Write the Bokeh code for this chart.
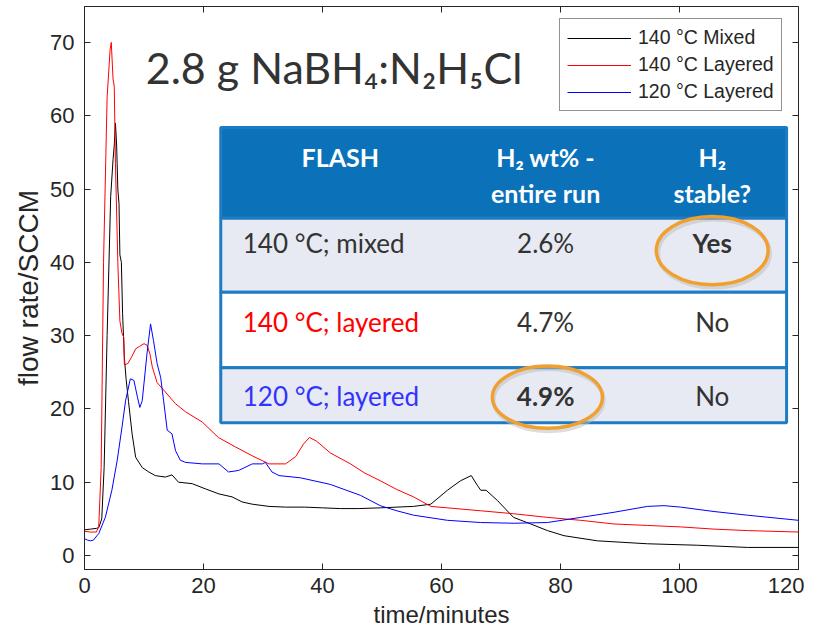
from bokeh.plotting import figure
from bokeh.models import Range1d, FixedTicker, LinearAxis, Legend, LegendItem, Label, ColumnDataSource
from bokeh.core.properties import value
from bokeh.embed import file_html
from bokeh.resources import INLINE

# ---------------- data ----------------
t_mixed140 = [0, 1, 2, 2.4, 2.9, 3.3, 3.8, 4.4, 4.8, 5.0, 5.2, 5.4, 5.6, 5.8, 5.95, 6.2, 6.4, 6.7,
              7.0, 7.4, 8.0, 8.6, 9.7, 10.8, 11.9, 13.6, 14.7, 15.8, 18.1, 20.3, 22.6, 24.8, 26.5,
              28.2, 31, 33.8, 37, 40, 43, 46, 49.7, 52.5, 55.3, 58.2, 61, 63.2, 65, 66, 66.6, 67.5,
              69.4, 72.1, 75, 77.8, 80.6, 86.2, 94.6, 103, 111.4, 120]
v_mixed140 = [3.5, 3.6, 3.7, 3.8, 5, 12, 30, 49, 54, 56, 59, 56, 50, 48, 41, 40, 33, 27,
              24, 21, 16.6, 13.4, 12.0, 11.4, 10.9, 10.7, 11.0, 10.0, 9.8, 9.1, 8.4, 8.0, 7.3,
              7.0, 6.7, 6.6, 6.6, 6.5, 6.4, 6.4, 6.5, 6.6, 6.7, 7.0, 8.9, 10.2, 10.9, 9.6, 8.9, 8.9,
              7.5, 5.2, 4.3, 3.4, 2.7, 2.0, 1.6, 1.4, 1.1, 1.1]

t_layer140 = [0, 1, 2, 2.4, 2.8, 3.2, 3.8, 4.3, 4.5, 4.8, 5.0, 5.2, 5.6, 5.95, 6.3, 6.6, 6.7, 7.3,
              8.0, 8.6, 9.2, 10, 10.5, 11.0, 11.4, 12.2, 13.6, 15.3, 17, 19.8, 22.5, 25.4, 28.2, 31,
              33.8, 35.5, 36.8, 37.8, 39, 41.3, 44.7, 47, 49.7, 52.5, 55.3, 58.2, 61, 66.6, 72.1,
              77.8, 83.4, 89, 94.6, 100.2, 105.8, 111.4, 120]
v_layer140 = [3.3, 3.2, 3.2, 4, 12, 40, 62.5, 69, 70, 65, 64, 53.5, 40, 32, 30.3, 29.8, 26, 26.2,
              27.2, 28.2, 28.5, 28.9, 28.7, 27.5, 25.7, 23.6, 22.3, 20.7, 19.6, 18.2, 16.1, 14.8, 13.6, 12.5,
              12.5, 13.5, 15.2, 16.1, 15.6, 14.0, 12.5, 11.3, 10.2, 9.0, 8.0, 6.7, 6.5, 6.1, 5.7,
              5.2, 4.8, 4.3, 4.1, 3.9, 3.6, 3.4, 3.2]

t_layer120 = [0, 0.5, 1.0, 1.5, 2.4, 3.5, 4.6, 5.5, 6.3, 6.9, 7.7, 8.3, 8.9, 9.3, 9.7, 10.5, 11.1,
              11.6, 12.2, 12.8, 13.3, 13.9, 14.7, 15.3, 16.1, 17, 19.8, 22.6, 24.2, 25.9, 28.2, 29.9,
              30.4, 31.5, 32.7, 36.3, 41.3, 46.4, 49.7, 52.5, 55.3, 61, 66.6, 72.2, 77.8, 83.4, 89,
              94.6, 97.4, 100.2, 105.8, 111.4, 120]
v_layer120 = [2.3, 2.1, 2.0, 2.1, 3.0, 5.2, 8.9, 13, 17.5, 21.1, 24.1, 23.9, 21.6, 20.2, 21.1, 27.5, 31.6,
              29.3, 26.2, 24.3, 21.1, 17.1, 16.6, 14.3, 13.0, 12.7, 12.5, 12.5, 11.4, 11.6, 12.5, 12.5,
              12.7, 11.4, 10.9, 10.6, 9.7, 8.2, 6.8, 6.1, 5.5, 4.8, 4.5, 4.4, 4.5, 5.2, 5.9,
              6.7, 6.8, 6.6, 6.0, 5.5, 4.8]

series_names = ["140 °C Mixed", "140 °C Layered", "120 °C Layered"]
series_colors = ["#000000", "#FF0000", "#0000FF"]

x_ticks = [0, 20, 40, 60, 80, 100, 120]
y_ticks = [0, 10, 20, 30, 40, 50, 60, 70]

title_text = "2.8 g NaBH₄:N₂H₅Cl"

table_header = ["FLASH", "H₂ wt% -", "entire run", "H₂", "stable?"]
table_rows = ["140 °C; mixed", "140 °C; layered", "120 °C; layered"]
table_row_colors = ["#333333", "#FF0000", "#3333FF"]
table_wt = ["2.6%", "4.7%", "4.9%"]
table_stable = ["Yes", "No", "No"]

# ---------------- figure ----------------
AX = "#262626"
p = figure(width=804, height=635, output_backend="svg", toolbar_location=None,
           x_range=Range1d(0, 120), y_range=Range1d(-1.91, 74.9),
           min_border_left=84, min_border_right=6, min_border_top=6, min_border_bottom=66)
p.background_fill_color = "white"
p.border_fill_color = "white"
p.outline_line_color = AX
p.outline_line_width = 1
p.xgrid.visible = False
p.ygrid.visible = False

for ax, ticks in ((p.xaxis[0], x_ticks), (p.yaxis[0], y_ticks)):
    ax.ticker = FixedTicker(ticks=ticks)
    ax.axis_line_color = AX
    ax.major_tick_line_color = AX
    ax.major_tick_in = 6
    ax.major_tick_out = 0
    ax.minor_tick_line_color = None
    ax.major_label_text_font = "Liberation Sans"
    ax.major_label_text_font_size = "22px"
    ax.major_label_text_color = AX
    ax.axis_label_text_font = "Liberation Sans"
    ax.axis_label_text_font_style = "normal"
    ax.axis_label_text_color = AX

p.xaxis.axis_label = "time/minutes"
p.yaxis.axis_label = "flow rate/SCCM"
p.xaxis.axis_label_text_font_size = "24px"
p.yaxis.axis_label_text_font_size = "28px"
p.xaxis.major_label_standoff = 8
p.xaxis.axis_label_standoff = 5
p.yaxis.major_label_standoff = 10
p.yaxis.axis_label_standoff = 3

for loc, ticks in (("right", y_ticks), ("above", x_ticks)):
    a = LinearAxis(ticker=FixedTicker(ticks=ticks), major_label_text_font_size="1px",
                   major_label_text_color=None,
                   major_label_standoff=0, major_tick_in=6, major_tick_out=0,
                   minor_tick_line_color=None, axis_line_color=None,
                   major_tick_line_color=AX)
    p.add_layout(a, loc)

# ---------------- lines ----------------
renderers = []
for (t, v), c in zip(((t_mixed140, v_mixed140), (t_layer140, v_layer140), (t_layer120, v_layer120)),
                     series_colors):
    r = p.line(t, v, line_color=c, line_width=1)
    renderers.append(r)

# ---------------- table (annotation) ----------------
TX0, TX1 = 22.9, 118.0
EDGES = [58.4, 46.0, 35.9, 25.6, 18.1]
BLUE_HDR = "#0B72BA"
BLUE_LINE = "#1F7CC2"
ROW_FILL = ["#E7EAF3", "#FFFFFF", "#E7EAF3"]

p.quad(left=[TX0], right=[TX1], top=[EDGES[0]], bottom=[EDGES[1]],
       fill_color=BLUE_HDR, line_color=BLUE_LINE, line_width=3)
p.quad(left=[TX0] * 3, right=[TX1] * 3, top=EDGES[1:4], bottom=EDGES[2:5],
       fill_color=ROW_FILL, line_color=BLUE_LINE, line_width=3)

FONT = "Lato"
hdr_src = ColumnDataSource(dict(
    x=[43.0, 77.5, 77.5, 105.5, 105.5],
    y=[54.3, 54.3, 49.4, 54.3, 49.4],
    text=table_header))
p.text(x="x", y="y", text="text", source=hdr_src, text_font=value(FONT),
       text_font_size="25px", text_font_style="bold", text_color="white",
       text_align="center", text_baseline="middle")

row_y = [42.6, 31.9, 21.8]
p.text(x=[26.6] * 3, y=row_y, text=table_rows, text_color=table_row_colors,
       text_font=value(FONT), text_font_size="26px", text_align="left", text_baseline="middle")
p.text(x=[77.5] * 3, y=row_y, text=table_wt, text_color="#333333",
       text_font=value(FONT), text_font_size="26px", text_align="center", text_baseline="middle",
       text_font_style=["normal", "normal", "bold"])
p.text(x=[105.5] * 3, y=row_y, text=table_stable, text_color="#333333",
       text_font=value(FONT), text_font_size="26px", text_align="center", text_baseline="middle",
       text_font_style=["bold", "normal", "normal"])

# orange highlight ellipses
p.ellipse(x=[105.8, 78.0], y=[41.2, 21.2], width=[18.8, 18.5], height=[9.3, 8.5],
          fill_color=None, line_color="#BBBBBB", line_alpha=0.5, line_width=4)
p.ellipse(x=[105.5, 77.8], y=[41.6, 21.6], width=[18.8, 18.5], height=[9.3, 8.5],
          fill_color=None, line_color="#F0A030", line_width=3.5)

# title
p.add_layout(Label(x=10.3, y=66.6, text=title_text, text_font=FONT, text_font_size="43px",
                   text_color="#333333", text_baseline="alphabetic", text_align="left"))

# ---------------- legend ----------------
legend = Legend(items=[LegendItem(label=n, renderers=[r]) for n, r in zip(series_names, renderers)],
                location=(475, 458), margin=0, padding=7, spacing=4,
                label_height=22, glyph_height=22, glyph_width=64, label_standoff=7,
                label_text_font="Liberation Sans", label_text_font_size="19.5px",
                label_text_color=AX, border_line_color=AX, border_line_width=1,
                background_fill_color="white", background_fill_alpha=1)
p.add_layout(legend)

open("out.html", "w").write(file_html(p, INLINE))
